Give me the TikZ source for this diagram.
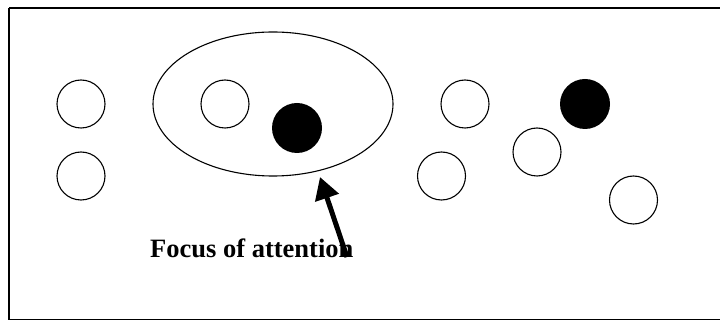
\documentclass[tikz,border=0pt]{standalone}
\usepackage{fontspec}
\setmainfont{Liberation Serif}
\usetikzlibrary{arrows.meta,shapes.geometric}
\tikzset{
  dot/.style={circle,draw=black,line width=1.1pt,minimum size=48pt,inner sep=0pt,fill=white},
  fdot/.style={circle,fill=black,minimum size=50pt,inner sep=0pt},
  ring/.style={ellipse,draw=black,line width=1.1pt,minimum width=240pt,minimum height=144pt,inner sep=0pt},
  label/.style={font=\fontsize{26.5}{30}\selectfont\bfseries,inner sep=0pt,anchor=base west},
  bigarrow/.style={line width=5pt,-{Triangle[length=22pt,width=24pt]}}
}
\begin{document}
\begin{tikzpicture}[x=1pt,y=-1pt]
\useasboundingbox (0,0) rectangle (720,320);
\begin{scope}
\clip (0,0) rectangle (720,320);
\draw[line width=1.5pt] (9,8) -- (730,8) (9,8) -- (9,319.5) -- (730,319.5);
\end{scope}
\node[ring] (focus) at (273,104) {};
\node[dot] (a1) at (81,104) {};
\node[dot] (a2) at (81,176) {};
\node[dot] (b1) at (225,104) {};
\node[fdot] (b2) at (297,128) {};
\node[dot] (c1) at (465,104) {};
\node[dot] (c2) at (441.5,176) {};
\node[dot] (c3) at (537,152) {};
\node[fdot] (c4) at (585,104) {};
\node[dot] (c5) at (633.5,200) {};
\node[label] (txt) at (150,258) {Focus of attention};
\coordinate (tail) at (347,257);
\coordinate (tip) at (320,177);
\draw[bigarrow] (tail) -- (tip);
\end{tikzpicture}
\end{document}
